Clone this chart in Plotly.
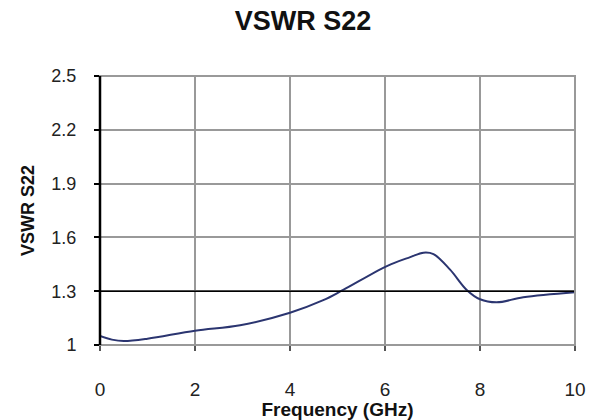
import plotly.graph_objects as go

freq_ghz = [0.0, 0.25, 0.5, 1.0, 2.0, 2.95, 4.0, 4.7, 5.12, 6.04, 6.53, 6.81, 7.02, 7.37, 7.72, 8.0, 8.35, 8.91, 10.0]
vswr = [1.05, 1.03, 1.022, 1.035, 1.08, 1.11, 1.18, 1.25, 1.307, 1.44, 1.49, 1.515, 1.507, 1.42, 1.307, 1.255, 1.238, 1.266, 1.294]
x_ticks = [0, 2, 4, 6, 8, 10]
y_ticks = [1, 1.3, 1.6, 1.9, 2.2, 2.5]
y_tick_labels = ["1", "1.3", "1.6", "1.9", "2.2", "2.5"]
limit_line = 1.3

font = "Liberation Sans, Arial, sans-serif"

fig = go.Figure()
fig.add_trace(go.Scatter(
    x=freq_ghz, y=vswr, mode="lines",
    line=dict(color="#2b3570", width=2, shape="spline", smoothing=1.0),
    showlegend=False, hoverinfo="skip",
))

fig.add_hline(y=limit_line, line=dict(color="#000000", width=1.5), layer="above")
fig.add_shape(type="rect", xref="x domain", yref="y domain", x0=0, x1=1, y0=0, y1=1,
              line=dict(color="#999999", width=2), layer="above")
fig.add_shape(type="line", xref="x domain", yref="y domain", x0=0, x1=0, y0=0, y1=1,
              line=dict(color="#000000", width=2.5), layer="above")

fig.update_layout(
    width=594, height=420,
    margin=dict(l=100, r=19, t=76, b=75),
    paper_bgcolor="white", plot_bgcolor="white",
    title=dict(text="<b>VSWR S22</b>", x=0.51, xanchor="center", y=0.952, yanchor="middle",
               font=dict(family=font, size=27, color="#111111")),
    font=dict(family=font, color="#222222"),
)
fig.update_xaxes(
    range=[0, 10], tickvals=x_ticks, ticktext=[str(v) for v in x_ticks],
    showgrid=True, gridcolor="#999999", gridwidth=1.5,
    zeroline=False, showline=False, automargin=False,
    ticks="outside", ticklen=5, tickcolor="#555555", tickwidth=1.5,
    ticklabelstandoff=22,
    tickfont=dict(family=font, size=19, color="#222222"),
    title=dict(text="<b>Frequency (GHz)</b>", standoff=0,
               font=dict(family=font, size=19, color="#111111")),
)
fig.update_yaxes(
    range=[1, 2.5], tickvals=y_ticks, ticktext=y_tick_labels,
    showgrid=True, gridcolor="#999999", gridwidth=1.5,
    zeroline=False, showline=False, automargin=False,
    ticks="outside", ticklen=5, tickcolor="#000000", tickwidth=1.5,
    ticklabelstandoff=14,
    tickfont=dict(family=font, size=18, color="#222222"),
    title=dict(text="<b>VSWR S22</b>", standoff=12,
               font=dict(family=font, size=18, color="#111111")),
)

fig.write_html("out.html", config={"displayModeBar": False},
               post_script="document.body.style.margin='0';document.body.style.padding='0';")
